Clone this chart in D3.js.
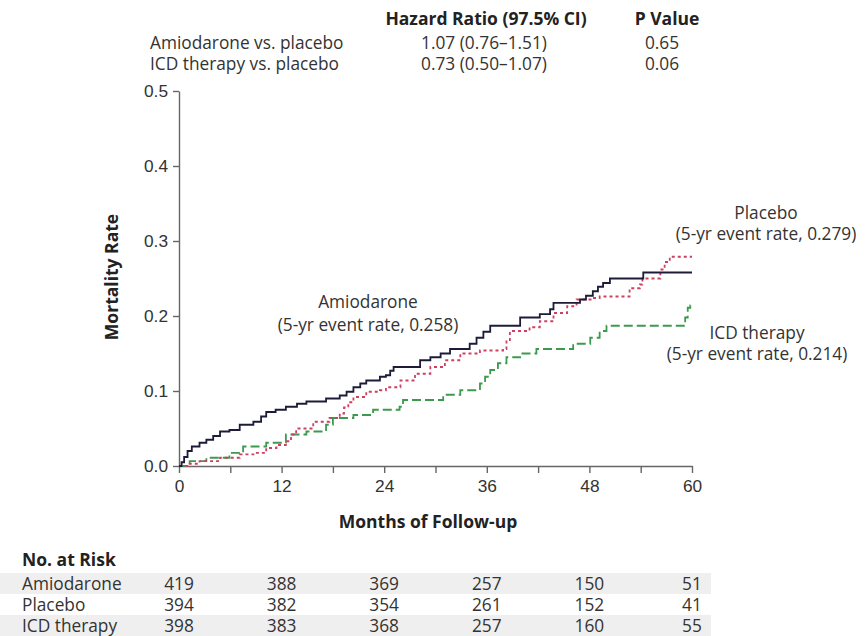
<!DOCTYPE html>
<html>
<head>
<meta charset="utf-8">
<script src="https://cdn.jsdelivr.net/npm/d3@7"></script>
<style>
  body { margin: 0; background: #fff; }
  svg { font-family: "Open Sans", "Noto Sans", sans-serif; }
  .axis path, .axis line { stroke: #666; stroke-width: 1.4; }
  .axis text { font-size: 17.3px; fill: #333; }
  .lbl { font-size: 17.3px; fill: #333; }
  .bold { font-size: 17.5px; font-weight: bold; fill: #222; }
</style>
</head>
<body>
<svg id="chart" width="868" height="636"></svg>
<script>
// stats table at the top
var compLabels = ["Amiodarone vs. placebo", "ICD therapy vs. placebo"];
var hazardRatios = ["1.07 (0.76\u20131.51)", "0.73 (0.50\u20131.07)"];
var pValues = ["0.65", "0.06"];

// Kaplan-Meier style steps: [month, cumulative mortality]
var amiodarone = [
  [0, 0], [0.3, 0.005], [0.6, 0.012], [1.0, 0.02], [1.5, 0.026], [2.4, 0.031],
  [3.2, 0.035], [4.0, 0.040], [4.8, 0.046], [5.9, 0.048], [7.1, 0.055], [8.7, 0.059],
  [9.6, 0.066], [10.2, 0.072], [11.3, 0.075], [12.5, 0.079], [13.8, 0.083], [14.9, 0.086],
  [17.2, 0.090], [18.8, 0.094], [19.6, 0.099], [20.4, 0.105], [21.2, 0.110], [21.9, 0.114],
  [23.5, 0.119], [24.2, 0.121], [24.7, 0.127], [25.1, 0.132], [28.2, 0.141], [29.4, 0.145],
  [30.6, 0.150], [31.7, 0.156], [34.0, 0.163], [34.8, 0.171], [35.6, 0.179], [36.4, 0.187],
  [39.9, 0.198], [42.2, 0.2025], [43.4, 0.209], [43.8, 0.2175], [46.9, 0.222], [47.6, 0.227],
  [48.4, 0.233], [49.0, 0.239], [49.6, 0.244], [50.4, 0.250], [54.3, 0.258], [60, 0.258]
];
var placebo = [
  [0, 0], [1.0, 0.003], [2.4, 0.0066], [4.8, 0.011], [7.1, 0.0154], [8.7, 0.0175],
  [10.2, 0.024], [11.4, 0.028], [12.5, 0.033], [13.1, 0.042], [13.7, 0.050], [15.7, 0.059],
  [17.6, 0.064], [18.8, 0.070], [19.3, 0.078], [19.8, 0.085], [20.4, 0.092], [21.9, 0.099],
  [23.5, 0.101], [24.2, 0.105], [25.9, 0.114], [27.6, 0.123], [29.4, 0.132], [31.1, 0.141],
  [32.9, 0.150], [35.2, 0.154], [37.9, 0.156], [38.3, 0.168], [38.7, 0.180], [41.0, 0.185],
  [42.2, 0.193], [43.8, 0.204], [45.4, 0.213], [46.5, 0.222], [48.4, 0.224], [49.2, 0.226],
  [52.7, 0.237], [53.9, 0.242], [54.2, 0.250], [56.3, 0.262], [56.8, 0.272], [57.4, 0.279],
  [60, 0.279]
];
var icd = [
  [0, 0], [1.25, 0.0066], [3.2, 0.011], [5.9, 0.0175], [7.5, 0.026], [10.2, 0.031],
  [12.5, 0.042], [14.9, 0.046], [17.2, 0.055], [18.0, 0.064], [20.4, 0.068], [22.7, 0.075],
  [25.8, 0.079], [26.2, 0.088], [30.9, 0.095], [32.9, 0.101], [35.2, 0.110], [35.8, 0.119],
  [36.4, 0.128], [37.3, 0.137], [38.3, 0.145], [39.9, 0.150], [41.8, 0.156], [46.1, 0.163],
  [48.1, 0.171], [49.2, 0.180], [50.0, 0.187], [59.2, 0.198], [59.5, 0.211], [59.8, 0.214],
  [60, 0.214]
];

// number at risk table
var riskMonths = [0, 12, 24, 36, 48, 60];
var riskGroups = ["Amiodarone", "Placebo", "ICD therapy"];
var riskAmiodarone = [419, 388, 369, 257, 150, 51];
var riskPlacebo = [394, 382, 354, 261, 152, 41];
var riskIcd = [398, 383, 368, 257, 160, 55];

var svg = d3.select("#chart");

var x = d3.scaleLinear().domain([0, 60]).range([179, 692]);
var y = d3.scaleLinear().domain([0, 0.5]).range([466, 91]);

// header table
svg.append("text").attr("class", "bold").attr("x", 486).attr("y", 25)
  .attr("text-anchor", "middle").text("Hazard Ratio (97.5% CI)");
svg.append("text").attr("class", "bold").attr("x", 667).attr("y", 25)
  .attr("text-anchor", "middle").text("P Value");
compLabels.forEach(function(d, i) {
  var yy = 49 + i * 21;
  svg.append("text").attr("class", "lbl").attr("x", 150).attr("y", yy).text(d);
  svg.append("text").attr("class", "lbl").attr("x", 484).attr("y", yy)
    .attr("text-anchor", "middle").text(hazardRatios[i]);
  svg.append("text").attr("class", "lbl").attr("x", 662).attr("y", yy)
    .attr("text-anchor", "middle").text(pValues[i]);
});

// axes
svg.append("g").attr("class", "axis")
  .attr("transform", "translate(179,0)")
  .call(d3.axisLeft(y).tickValues([0, 0.1, 0.2, 0.3, 0.4, 0.5])
    .tickFormat(d3.format(".1f")).tickSize(6).tickSizeOuter(0).tickPadding(5));

svg.append("g").attr("class", "axis")
  .attr("transform", "translate(0,466)")
  .call(d3.axisBottom(x).tickValues(d3.range(0, 61, 6))
    .tickFormat(function(d) { return d % 12 === 0 ? d : ""; })
    .tickSize(7).tickSizeOuter(0).tickPadding(7));

svg.append("text").attr("class", "bold")
  .attr("transform", "translate(118,277) rotate(-90)")
  .attr("text-anchor", "middle").text("Mortality Rate");

svg.append("text").attr("class", "bold").attr("x", 428).attr("y", 528)
  .attr("text-anchor", "middle").text("Months of Follow-up");

// curves
var line = d3.line()
  .x(function(d) { return x(d[0]); })
  .y(function(d) { return y(d[1]); })
  .curve(d3.curveStepAfter);

svg.append("path").datum(icd).attr("d", line)
  .attr("fill", "none").attr("stroke", "#3c9a4e").attr("stroke-width", 1.8)
  .attr("stroke-dasharray", "9,4");
svg.append("path").datum(placebo).attr("d", line)
  .attr("fill", "none").attr("stroke", "#cc4060").attr("stroke-width", 1.8)
  .attr("stroke-dasharray", "3,3");
svg.append("path").datum(amiodarone).attr("d", line)
  .attr("fill", "none").attr("stroke", "#1c1c3a").attr("stroke-width", 1.8);

// curve annotations
function note(cx, cy, gap, lines) {
  lines.forEach(function(t, i) {
    svg.append("text").attr("class", "lbl").attr("x", cx).attr("y", cy + i * gap)
      .attr("text-anchor", "middle").text(t);
  });
}
note(368, 308, 23, ["Amiodarone", "(5-yr event rate, 0.258)"]);
note(766, 219, 21, ["Placebo", "(5-yr event rate, 0.279)"]);
note(757, 339, 21, ["ICD therapy", "(5-yr event rate, 0.214)"]);

// number at risk
svg.append("text").attr("class", "bold").attr("x", 22).attr("y", 566)
  .text("No. at Risk");

var riskRows = [riskAmiodarone, riskPlacebo, riskIcd];
riskRows.forEach(function(row, i) {
  var yy = 584 + i * 21;
  if (i % 2 === 0) {
    svg.append("rect").attr("x", 0).attr("y", yy - 11).attr("width", 711).attr("height", 21)
      .attr("fill", "#efefef");
  }
  svg.append("text").attr("class", "lbl").attr("x", 22).attr("y", yy + 6).text(riskGroups[i]);
  svg.selectAll(null).data(row).enter().append("text")
    .attr("class", "lbl")
    .attr("x", function(d, j) { return x(riskMonths[j]); })
    .attr("y", yy + 6)
    .attr("text-anchor", "middle")
    .text(function(d) { return d; });
});
</script>
</body>
</html>
